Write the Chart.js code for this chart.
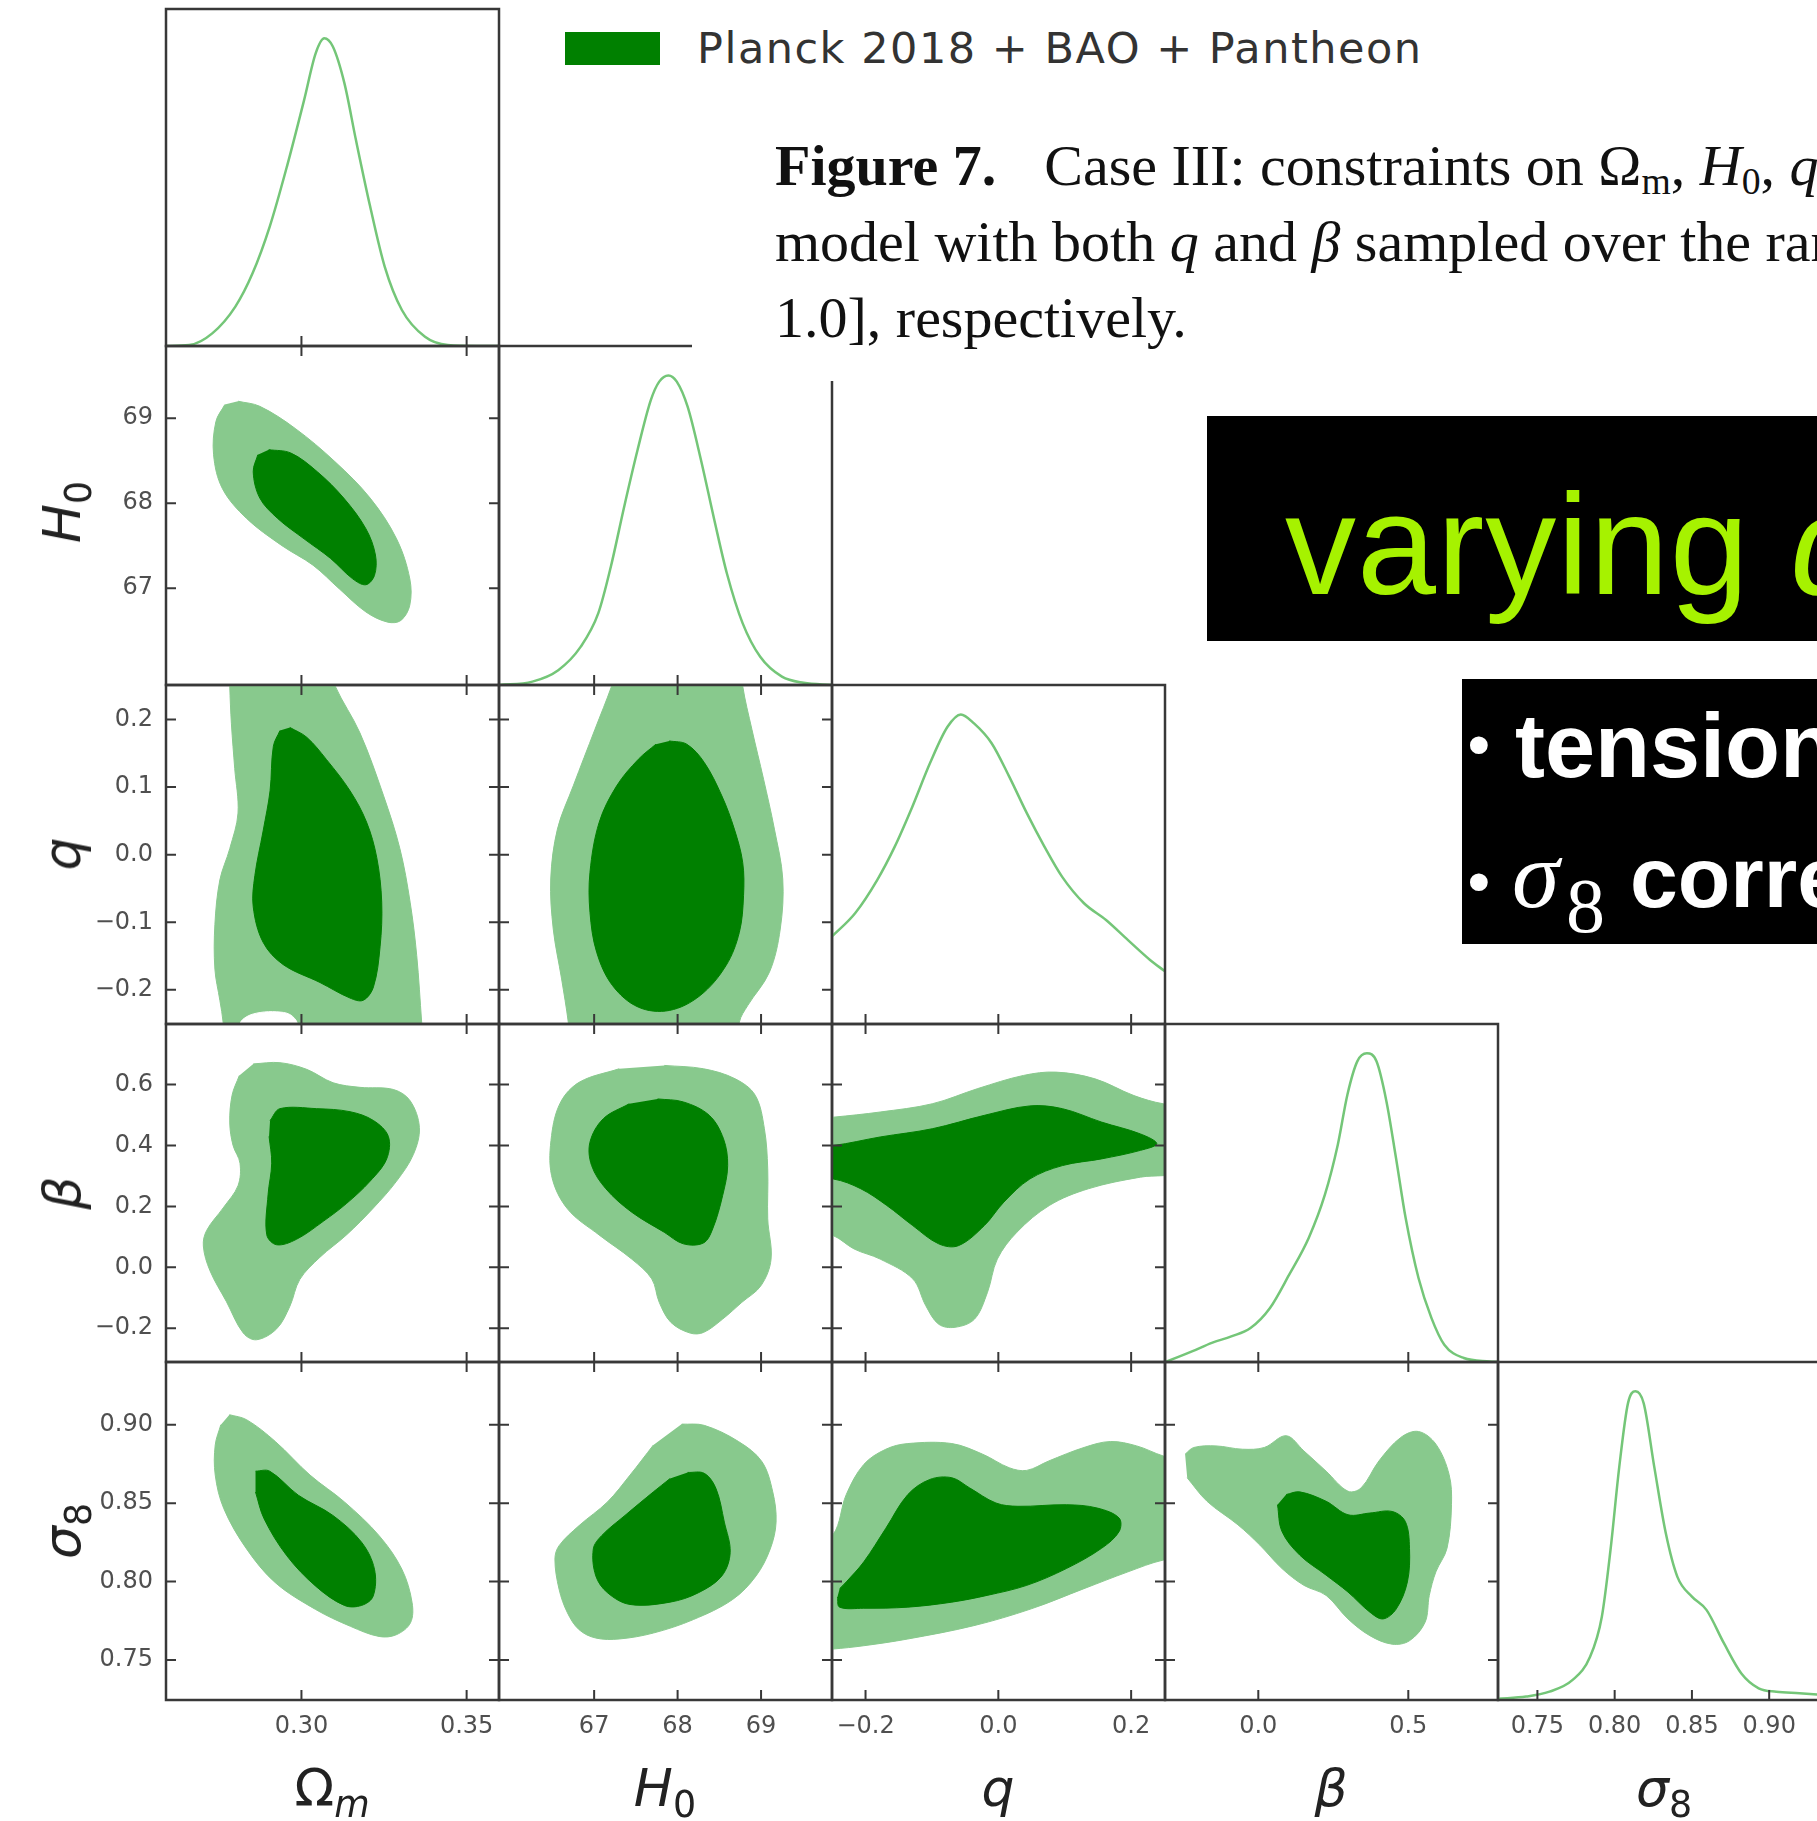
<!DOCTYPE html>
<html>
<head>
<meta charset="utf-8">
<title>Planck 2018 + BAO + Pantheon - triangle plot</title>
<script src="https://cdn.jsdelivr.net/npm/chart.js@4.4.1/dist/chart.umd.min.js"></script>
<style>
  html, body { margin: 0; padding: 0; background: #fff; }
  body { position: relative; width: 1817px; height: 1821px; overflow: hidden; }
  #grid canvas { position: absolute; }
  .t { position: absolute; white-space: nowrap; }
  .box { position: absolute; background: #000; }
  .axlab { position: absolute; font-family: "DejaVu Sans", sans-serif; font-size: 52px; line-height: 52px;
           color: #222; white-space: nowrap; transform: translate(-50%, -50%); }
  .axlab.rot { transform: translate(-50%, -50%) rotate(-90deg); }
  .axlab sub { font-size: 70%; vertical-align: -0.3em; line-height: 0; }
  .cap sub { font-size: 65%; vertical-align: -0.25em; line-height: 0; }
</style>
</head>
<body>
<div id="grid"></div>

<!-- caption overlay hides part of the grid, like in the slide -->
<div style="position:absolute;left:692px;top:0;width:1125px;height:381px;background:#fff"></div>

<!-- legend -->
<div style="position:absolute;left:565px;top:32px;width:95px;height:33px;background:#008000"></div>
<div class="t" style="left:697px;top:27px;font:43px/43px 'DejaVu Sans',sans-serif;color:#333;letter-spacing:1.5px">Planck 2018 + BAO + Pantheon</div>

<!-- caption -->
<div class="t cap" style="left:775px;top:128px;font:58px/76px 'Liberation Serif',serif;color:#111">
<b>Figure 7.</b><span style="margin-left:48px">Case III: constraints on Ω<sub>m</sub>, <i>H</i><sub>0</sub>, <i>q</i>, <i>β</i> and <i>σ</i><sub>8</sub></span><br>model with both <i>q</i> and <i>β</i> sampled over the range<br>1.0], respectively.</div>

<!-- slide boxes -->
<div class="box" style="left:1207px;top:416px;width:700px;height:225px"></div>
<div class="t" style="left:1285px;top:474px;font:142px/142px 'Liberation Sans',Arial,sans-serif;color:#a6f200;letter-spacing:1px">varying <i>q</i></div>
<div class="box" style="left:1462px;top:679px;width:400px;height:265px"></div>
<div class="t" style="left:1468px;top:713px;font:bold 62px/62px 'Liberation Sans',Arial,sans-serif;color:#fff">•</div>
<div class="t" style="left:1515px;top:701px;font:bold 90px/90px 'Liberation Sans',Arial,sans-serif;color:#fff">tension</div>
<div class="t" style="left:1468px;top:850px;font:bold 62px/62px 'Liberation Sans',Arial,sans-serif;color:#fff">•</div>
<div class="t" style="left:1512px;top:827px;font:italic 96px/96px 'Liberation Serif',serif;color:#fff">σ</div>
<div class="t" style="left:1566px;top:867px;font:78px/78px 'Liberation Serif',serif;color:#fff">8</div>
<div class="t" style="left:1630px;top:834px;font:bold 86px/86px 'Liberation Sans',Arial,sans-serif;color:#fff">correlation</div>

<!-- axis titles -->
<div class="axlab" style="left:332px;top:1788px">Ω<sub><i>m</i></sub></div>
<div class="axlab" style="left:665px;top:1788px"><i>H</i><sub>0</sub></div>
<div class="axlab" style="left:998px;top:1788px"><i>q</i></div>
<div class="axlab" style="left:1331px;top:1788px"><i>β</i></div>
<div class="axlab" style="left:1664px;top:1788px"><i>σ</i><sub>8</sub></div>
<div class="axlab rot" style="left:62px;top:512px"><i>H</i><sub>0</sub></div>
<div class="axlab rot" style="left:62px;top:854px"><i>q</i></div>
<div class="axlab rot" style="left:62px;top:1193px"><i>β</i></div>
<div class="axlab rot" style="left:62px;top:1531px"><i>σ</i><sub>8</sub></div>

<script>
// axis limits
const omLim = [0.2590, 0.3598];
const h0Lim = [65.86, 69.85];
const qLim = [-0.2505, 0.2510];
const betaLim = [-0.311, 0.799];
const s8Lim = [0.7245, 0.9400];

// ticks
const omTicks = [0.30, 0.35];
const h0Ticks = [67, 68, 69];
const qTicksX = [-0.2, 0.0, 0.2];
const qTicksY = [-0.2, -0.1, 0.0, 0.1, 0.2];
const betaTicksX = [0.0, 0.5];
const betaTicksY = [-0.2, 0.0, 0.2, 0.4, 0.6];
const s8Ticks = [0.75, 0.80, 0.85, 0.90];

// 1D marginals [value, P/Pmax]
const om_pdf = [[0.2590,0],[0.2660,0.003],[0.2730,0.041],[0.2800,0.128],[0.2852,0.236],[0.2904,0.388],[0.2956,0.583],[0.3008,0.799],[0.3043,0.951],[0.3069,1.0],[0.3095,0.973],[0.3130,0.854],[0.3165,0.669],[0.3208,0.453],[0.3252,0.258],[0.3304,0.117],[0.3374,0.030],[0.3443,0.003],[0.3530,0],[0.3600,0]];
const h0_pdf = [[65.86,0],[66.26,0.011],[66.57,0.048],[66.84,0.124],[67.05,0.232],[67.20,0.382],[67.36,0.576],[67.52,0.759],[67.68,0.921],[67.78,0.980],[67.89,1.0],[67.99,0.980],[68.12,0.899],[68.28,0.727],[68.44,0.533],[68.59,0.361],[68.78,0.199],[68.99,0.091],[69.25,0.027],[69.51,0.007],[69.85,0]];
const q_pdf = [[-0.2505,0.283],[-0.2157,0.358],[-0.1825,0.465],[-0.156,0.573],[-0.1295,0.702],[-0.103,0.842],[-0.0765,0.960],[-0.0565,1.0],[-0.0366,0.971],[-0.0101,0.907],[0.0164,0.799],[0.0429,0.681],[0.0694,0.573],[0.0959,0.476],[0.129,0.390],[0.1622,0.336],[0.1953,0.271],[0.2285,0.207],[0.2510,0.170]];
const b_pdf = [[-0.311,0],[-0.305,0.002],[-0.219,0.035],[-0.155,0.062],[-0.090,0.083],[-0.026,0.110],[0.039,0.175],[0.103,0.283],[0.168,0.402],[0.222,0.542],[0.265,0.704],[0.297,0.866],[0.330,0.974],[0.362,1.0],[0.394,0.974],[0.427,0.845],[0.459,0.661],[0.491,0.467],[0.534,0.272],[0.577,0.143],[0.620,0.056],[0.685,0.013],[0.771,0.002],[0.799,0]];
const s8_pdf = [[0.7245,0.004],[0.7427,0.011],[0.7578,0.027],[0.7728,0.065],[0.7841,0.140],[0.7917,0.270],[0.7973,0.486],[0.8030,0.756],[0.8086,0.961],[0.8135,1.0],[0.8188,0.961],[0.8256,0.756],[0.8331,0.540],[0.8406,0.399],[0.8500,0.335],[0.8594,0.292],[0.8707,0.184],[0.8820,0.086],[0.8932,0.038],[0.9046,0.027],[0.9196,0.022],[0.9400,0.014]];

// 2D contours, outer (95%) and inner (68%), [x, y]
const h0_om_2s = [[0.2808,69.20],[0.2874,69.14],[0.2981,68.88],[0.3101,68.49],[0.3208,68.06],[0.3288,67.58],[0.3328,67.11],[0.3328,66.80],[0.3301,66.62],[0.3261,66.60],[0.3195,66.72],[0.3115,66.99],[0.3035,67.27],[0.2941,67.50],[0.2834,67.82],[0.2761,68.17],[0.2734,68.57],[0.2741,68.96],[0.2768,69.16]];
const h0_om_1s = [[0.2901,68.63],[0.2968,68.59],[0.3048,68.37],[0.3128,68.06],[0.3195,67.70],[0.3224,67.39],[0.3221,67.15],[0.3195,67.04],[0.3155,67.11],[0.3088,67.35],[0.3008,67.58],[0.2928,67.82],[0.2874,68.06],[0.2854,68.37],[0.2868,68.57]];

const q_om_2s = [[0.2780,0.32],[0.2783,0.2495],[0.2788,0.1935],[0.2798,0.1275],[0.2808,0.0616],[0.2783,0.0089],[0.2753,-0.0374],[0.2738,-0.1033],[0.2738,-0.1693],[0.2753,-0.2154],[0.2763,-0.2484],[0.2770,-0.32],[0.3375,-0.32],[0.3364,-0.2484],[0.3349,-0.1495],[0.3329,-0.0703],[0.3298,0.0089],[0.3248,0.088],[0.3177,0.1802],[0.3102,0.2495],[0.3050,0.32]];
const q_om_1s = [[0.2965,0.1882],[0.3016,0.1737],[0.3076,0.1406],[0.3147,0.0945],[0.3197,0.0483],[0.3228,-0.0044],[0.3243,-0.0703],[0.3238,-0.1363],[0.3218,-0.1956],[0.3187,-0.2154],[0.3147,-0.2121],[0.3056,-0.1891],[0.2945,-0.1627],[0.2884,-0.1297],[0.2854,-0.077],[0.2859,-0.0308],[0.2884,0.0351],[0.2905,0.0945],[0.2915,0.1604],[0.2935,0.1836]];
const q_om_hole = [[0.2812,-0.30],[0.2814,-0.2505],[0.2835,-0.2395],[0.2875,-0.2335],[0.2925,-0.2325],[0.2965,-0.2365],[0.2988,-0.2505],[0.2990,-0.30]];

const b_om_2s = [[0.2854,0.668],[0.2935,0.672],[0.3016,0.650],[0.3096,0.606],[0.3177,0.591],[0.3278,0.584],[0.3329,0.547],[0.3357,0.459],[0.3339,0.371],[0.3288,0.283],[0.3218,0.195],[0.3137,0.107],[0.3056,0.033],[0.2995,-0.040],[0.2965,-0.128],[0.2925,-0.202],[0.2864,-0.238],[0.2824,-0.216],[0.2773,-0.113],[0.2723,-0.011],[0.2703,0.070],[0.2713,0.121],[0.2763,0.195],[0.2808,0.268],[0.2814,0.342],[0.2793,0.400],[0.2783,0.474],[0.2790,0.565],[0.2812,0.630]];
const b_om_1s = [[0.2905,0.482],[0.2935,0.521],[0.3046,0.521],[0.3147,0.511],[0.3218,0.482],[0.3263,0.430],[0.3258,0.356],[0.3208,0.283],[0.3137,0.210],[0.3066,0.151],[0.2985,0.092],[0.2925,0.074],[0.2895,0.107],[0.2899,0.239],[0.2910,0.342],[0.2902,0.430]];

const s8_om_2s = [[0.2782,0.9064],[0.2834,0.9032],[0.2921,0.8893],[0.3026,0.8679],[0.3130,0.8508],[0.3235,0.8293],[0.3304,0.8079],[0.3335,0.7865],[0.3330,0.7737],[0.3287,0.7661],[0.3235,0.7650],[0.3148,0.7715],[0.3043,0.7822],[0.2921,0.7993],[0.2834,0.8208],[0.2765,0.8465],[0.2739,0.8679],[0.2739,0.8871],[0.2756,0.9000]];
const s8_om_1s = [[0.2861,0.8704],[0.2904,0.8704],[0.2991,0.855],[0.3095,0.8422],[0.3182,0.8251],[0.3221,0.8079],[0.3217,0.7907],[0.3182,0.7848],[0.3130,0.7848],[0.3043,0.7971],[0.2956,0.8164],[0.2887,0.84],[0.2861,0.8571]];

const q_h0_2s = [[67.40,0.32],[67.21,0.2495],[67.01,0.1855],[66.75,0.1018],[66.56,0.0378],[66.48,-0.036],[66.51,-0.110],[66.61,-0.1838],[66.69,-0.2477],[66.75,-0.32],[68.68,-0.32],[68.74,-0.2477],[68.84,-0.2232],[69.10,-0.1739],[69.23,-0.110],[69.26,-0.036],[69.16,0.0378],[69.03,0.1117],[68.89,0.1855],[68.78,0.2495],[68.72,0.32]];
const q_h0_1s = [[67.90,0.1683],[68.11,0.1634],[68.32,0.1363],[68.53,0.087],[68.68,0.0378],[68.78,-0.0114],[68.79,-0.0607],[68.74,-0.1148],[68.58,-0.1641],[68.27,-0.2084],[67.90,-0.2305],[67.53,-0.2256],[67.22,-0.1936],[67.03,-0.1443],[66.95,-0.0852],[66.95,-0.0261],[67.06,0.0477],[67.27,0.1018],[67.53,0.1412],[67.74,0.1634]];

const b_h0_2s = [[67.84,0.663],[68.31,0.652],[68.69,0.619],[68.93,0.565],[69.04,0.455],[69.08,0.323],[69.08,0.159],[69.12,0.027],[69.00,-0.060],[68.77,-0.115],[68.54,-0.170],[68.31,-0.214],[68.15,-0.216],[67.92,-0.181],[67.78,-0.115],[67.69,-0.038],[67.45,0.027],[67.07,0.104],[66.68,0.192],[66.49,0.301],[66.49,0.433],[66.60,0.543],[66.83,0.609],[67.30,0.652]];
const b_h0_1s = [[67.76,0.553],[68.07,0.543],[68.38,0.499],[68.55,0.422],[68.60,0.334],[68.54,0.236],[68.42,0.126],[68.31,0.080],[68.07,0.077],[67.84,0.115],[67.45,0.181],[67.14,0.258],[66.97,0.334],[66.95,0.411],[67.11,0.488],[67.42,0.537]];

const s8_h0_2s = [[68.05,0.9004],[68.32,0.8996],[68.73,0.8893],[69.01,0.8765],[69.14,0.8572],[69.18,0.8379],[69.11,0.8208],[68.94,0.8036],[68.66,0.7886],[68.19,0.7758],[67.71,0.7672],[67.30,0.7634],[67.02,0.7640],[66.82,0.7693],[66.68,0.7801],[66.58,0.7951],[66.53,0.8143],[66.58,0.8229],[66.82,0.8357],[67.16,0.8508],[67.43,0.8679],[67.71,0.8871]];
const s8_h0_1s = [[68.12,0.8696],[68.32,0.869],[68.46,0.8593],[68.56,0.8379],[68.63,0.8186],[68.53,0.8036],[68.25,0.7929],[67.91,0.7869],[67.43,0.7854],[67.16,0.7929],[67.02,0.8036],[66.99,0.8208],[67.09,0.8293],[67.37,0.8422],[67.71,0.8572],[67.91,0.8657]];

const b_q_2s = [[-0.32,0.48],[-0.2485,0.493],[-0.178,0.510],[-0.0995,0.537],[-0.0309,0.587],[0.0377,0.630],[0.0866,0.641],[0.1455,0.619],[0.2042,0.564],[0.2483,0.537],[0.32,0.52],[0.32,0.31],[0.2483,0.301],[0.214,0.296],[0.1357,0.258],[0.0768,0.203],[0.0279,0.115],[-0.0015,0.027],[-0.0163,-0.082],[-0.0358,-0.170],[-0.0652,-0.197],[-0.0898,-0.187],[-0.1093,-0.126],[-0.1289,-0.038],[-0.178,0.027],[-0.2171,0.060],[-0.2485,0.104],[-0.32,0.15]];
const b_q_1s = [[-0.32,0.39],[-0.2485,0.400],[-0.178,0.428],[-0.0995,0.455],[-0.0211,0.499],[0.0474,0.530],[0.0964,0.521],[0.1553,0.477],[0.214,0.438],[0.2386,0.406],[0.214,0.384],[0.1553,0.356],[0.0964,0.334],[0.0474,0.290],[0.0083,0.214],[-0.0211,0.137],[-0.0602,0.071],[-0.0898,0.077],[-0.1289,0.137],[-0.168,0.203],[-0.2072,0.258],[-0.2485,0.290],[-0.32,0.30]];

const s8_q_2s = [[-0.32,0.80],[-0.249,0.8298],[-0.229,0.8555],[-0.2026,0.8747],[-0.1694,0.8844],[-0.1363,0.888],[-0.070,0.888],[-0.0235,0.8812],[0.0163,0.8726],[0.0428,0.8709],[0.0759,0.8769],[0.129,0.8855],[0.1687,0.8893],[0.2084,0.8865],[0.2482,0.8801],[0.32,0.872],[0.32,0.818],[0.2482,0.8137],[0.1952,0.8062],[0.129,0.7955],[0.0494,0.7826],[-0.0369,0.7719],[-0.1363,0.7634],[-0.2026,0.7591],[-0.249,0.757],[-0.32,0.755]];
const s8_q_1s = [[-0.239,0.7955],[-0.229,0.7998],[-0.2026,0.8126],[-0.1694,0.834],[-0.1363,0.8555],[-0.1032,0.8651],[-0.070,0.8662],[-0.0435,0.8598],[-0.0036,0.8501],[0.0295,0.848],[0.1024,0.849],[0.1488,0.8469],[0.1819,0.8405],[0.1819,0.8319],[0.1554,0.8212],[0.1024,0.8083],[0.0428,0.7976],[-0.0169,0.7912],[-0.070,0.7869],[-0.1363,0.7837],[-0.2026,0.783],[-0.239,0.7837],[-0.2423,0.7901]];

const s8_b_2s = [[-0.244,0.8812],[-0.215,0.8855],[-0.141,0.8865],[-0.053,0.8844],[0.020,0.8855],[0.093,0.8930],[0.152,0.8833],[0.226,0.8704],[0.299,0.8576],[0.343,0.8598],[0.402,0.8769],[0.475,0.8919],[0.534,0.8957],[0.592,0.8876],[0.636,0.8683],[0.644,0.8490],[0.629,0.8212],[0.592,0.8062],[0.570,0.7912],[0.556,0.7741],[0.504,0.7623],[0.446,0.7601],[0.372,0.7655],[0.299,0.7762],[0.226,0.7912],[0.152,0.7976],[0.079,0.8083],[0.005,0.8233],[-0.068,0.8362],[-0.171,0.8512],[-0.237,0.8662]];
const s8_b_1s = [[0.093,0.8555],[0.138,0.8572],[0.226,0.8512],[0.299,0.8426],[0.372,0.8437],[0.446,0.8447],[0.490,0.8383],[0.504,0.8212],[0.497,0.7998],[0.460,0.7826],[0.416,0.7762],[0.372,0.7805],[0.299,0.7933],[0.226,0.8041],[0.138,0.8169],[0.079,0.8319],[0.064,0.849]];

// ---------------- layout / style ----------------
const colX = [166, 499, 832, 1165, 1498, 1831];
const rowY = [9, 346, 685, 1024, 1362, 1700];
const PAD = 3, LM = 110, BM = 60, TICK = 10;
const LIGHT = '#88c98d', DARK = '#008000', PDF = '#74c678', FRAME = '#383838';
const tickFont = {family: 'DejaVu Sans', size: 24};
const tickColor = '#4f4f4f';

const axes = [
  {lim: omLim, tx: omTicks, ty: omTicks, dec: 2},
  {lim: h0Lim, tx: h0Ticks, ty: h0Ticks, dec: 0},
  {lim: qLim, tx: qTicksX, ty: qTicksY, dec: 1},
  {lim: betaLim, tx: betaTicksX, ty: betaTicksY, dec: 1},
  {lim: s8Lim, tx: s8Ticks, ty: s8Ticks, dec: 2}
];
const pdfs = [om_pdf, h0_pdf, q_pdf, b_pdf, s8_pdf];
const contours = {
  '1,0': [h0_om_2s, h0_om_1s],
  '2,0': [q_om_2s, q_om_1s, q_om_hole],
  '3,0': [b_om_2s, b_om_1s],
  '4,0': [s8_om_2s, s8_om_1s],
  '2,1': [q_h0_2s, q_h0_1s],
  '3,1': [b_h0_2s, b_h0_1s],
  '4,1': [s8_h0_2s, s8_h0_1s],
  '3,2': [b_q_2s, b_q_1s],
  '4,2': [s8_q_2s, s8_q_1s],
  '4,3': [s8_b_2s, s8_b_1s]
};

const toXY = a => a.map(p => ({x: p[0], y: p[1]}));
const fmt = dec => v => (v < 0 ? '\u2212' : '') + Math.abs(v).toFixed(dec);

// frame + inward tick marks on every side (getdist look)
function frameTicks(xt, yt, diag) {
  return {
    id: 'frameTicks',
    afterDatasetsDraw(chart) {
      const {ctx, chartArea: a} = chart;
      const xs = chart.scales.x, ys = chart.scales.y;
      ctx.save();
      ctx.strokeStyle = FRAME;
      ctx.lineWidth = 2;
      ctx.beginPath();
      xt.forEach(v => {
        const px = xs.getPixelForValue(v);
        ctx.moveTo(px, a.bottom); ctx.lineTo(px, a.bottom - TICK);
        if (!diag) { ctx.moveTo(px, a.top); ctx.lineTo(px, a.top + TICK); }
      });
      if (!diag) yt.forEach(v => {
        const py = ys.getPixelForValue(v);
        ctx.moveTo(a.left, py); ctx.lineTo(a.left + TICK, py);
        ctx.moveTo(a.right, py); ctx.lineTo(a.right - TICK, py);
      });
      ctx.stroke();
      ctx.lineWidth = 2.5;
      ctx.strokeRect(a.left, a.top, a.right - a.left, a.bottom - a.top);
      ctx.restore();
    }
  };
}

function shape(data, color) {
  return {data: toXY(data), showLine: true, fill: 'shape', tension: 0.35,
          backgroundColor: color, borderColor: color, borderWidth: 1, pointRadius: 0};
}

// the label padding Chart.js adds would shrink the panel, so it is zeroed
function xScale(ax, show) {
  if (!show) return {type: 'linear', min: ax.lim[0], max: ax.lim[1], display: false};
  return {
    type: 'linear', position: 'bottom', min: ax.lim[0], max: ax.lim[1],
    grid: {display: false, drawTicks: false}, border: {display: false},
    ticks: {font: tickFont, color: tickColor, padding: 12, maxRotation: 0, autoSkip: false, callback: fmt(ax.dec)},
    afterBuildTicks: s => { s.ticks = ax.tx.map(v => ({value: v})); },
    afterFit: s => { s.height = BM; s.paddingLeft = 0; s.paddingRight = 0; }
  };
}

function yScale(ay, show) {
  if (!show) return {type: 'linear', min: ay.lim[0], max: ay.lim[1], display: false};
  return {
    type: 'linear', position: 'left', min: ay.lim[0], max: ay.lim[1],
    grid: {display: false, drawTicks: false}, border: {display: false},
    ticks: {font: tickFont, color: tickColor, padding: 13, autoSkip: false, callback: fmt(ay.dec)},
    afterBuildTicks: s => { s.ticks = ay.ty.map(v => ({value: v})); },
    afterFit: s => { s.width = LM; s.paddingTop = 0; s.paddingBottom = 0; }
  };
}

function makePanel(r, c) {
  const diag = r === c;
  const hasY = c === 0 && r > 0;
  const hasX = r === 4;
  const w = colX[c + 1] - colX[c] + 2 * PAD + (hasY ? LM : 0);
  const h = rowY[r + 1] - rowY[r] + 2 * PAD + (hasX ? BM : 0);
  const cv = document.createElement('canvas');
  cv.width = w; cv.height = h;
  cv.style.width = w + 'px'; cv.style.height = h + 'px';
  cv.style.left = (colX[c] - PAD - (hasY ? LM : 0)) + 'px';
  cv.style.top = (rowY[r] - PAD) + 'px';
  document.getElementById('grid').appendChild(cv);

  const ax = axes[c], ay = axes[r];
  let datasets;
  if (diag) {
    datasets = [{data: toXY(pdfs[c]), showLine: true, fill: false, borderColor: PDF, borderWidth: 2.5,
                 cubicInterpolationMode: 'monotone', pointRadius: 0}];
  } else {
    const cs = contours[r + ',' + c];
    datasets = [shape(cs[1], DARK)];
    if (cs[2]) datasets.push(shape(cs[2], '#ffffff'));
    datasets.push(shape(cs[0], LIGHT));
  }

  new Chart(cv, {
    type: 'scatter',
    data: {datasets},
    options: {
      responsive: false, animation: false, devicePixelRatio: 1, events: [],
      layout: {padding: PAD},
      elements: {line: {capBezierPoints: false}, point: {radius: 0}},
      plugins: {legend: {display: false}, tooltip: {enabled: false}},
      scales: {
        x: xScale(ax, hasX),
        y: diag ? {type: 'linear', min: 0, max: 1.095, display: false} : yScale(ay, hasY)
      }
    },
    plugins: [frameTicks(ax.tx, diag ? [] : ay.ty, diag)]
  });
}

for (let r = 0; r < 5; r++) {
  for (let c = 0; c <= r; c++) makePanel(r, c);
}
</script>
</body>
</html>
